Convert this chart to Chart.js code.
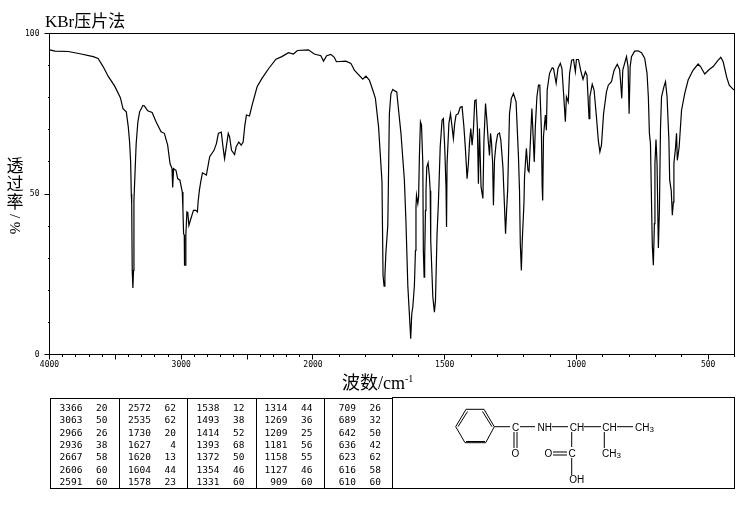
<!DOCTYPE html>
<html lang="zh">
<head>
    <meta charset="UTF-8">
    <title>KBr压片法</title>
    <script src="https://cdn.jsdelivr.net/npm/chart.js"></script>
    <style>
        body { margin: 0; background: #fff; color: #000; }
        #page { position: relative; width: 738px; height: 510px; overflow: hidden; }
        canvas { position: absolute; left: 0; top: 0; }
        .label { position: absolute; white-space: nowrap; font-family: "Liberation Serif", "Noto Sans CJK SC", serif; font-size: 17px; line-height: 1; }
        #method { left: 45px; top: 13px; }
        #xtitle { left: 342px; top: 374px; font-size: 18px; }
        #xtitle sup { font-size: 10px; line-height: 0; }
        #ytitle { left: 6px; top: 156px; font-family: "Noto Sans CJK SC", sans-serif; font-size: 17px; line-height: 18px; text-align: center; width: 18px; white-space: normal; }
        #ytitle span { display: block; }
        #ytitle .turned { transform: rotate(90deg); height: 12px; line-height: 12px; font-size: 15px; font-family: "Liberation Serif", serif; }
        #peaks { position: absolute; left: 49.5px; top: 397.5px; width: 343px; height: 91px; border: 1px solid #000; box-sizing: border-box; }
        #structure { position: absolute; left: 392px; top: 397px; }
        .cell { position: absolute; font-family: "DejaVu Sans Mono", monospace; font-size: 9.5px; line-height: 10px; text-align: right; width: 30px; }
        .divider { position: absolute; top: 0; bottom: 0; width: 1px; background: #000; }
    </style>
</head>
<body>
<div id="page">
    <canvas id="ir" width="738" height="510"></canvas>
    <div class="label" id="method">KBr压片法</div>
    <div class="label" id="xtitle">波数/cm<sup>-1</sup></div>
    <div class="label" id="ytitle"><span>透</span><span>过</span><span>率</span><span class="turned">/</span><span class="turned">%</span></div>
    <div id="peaks"></div>
    <svg id="structure" width="344" height="93" viewBox="392 397 344 93" font-family="Liberation Sans, sans-serif" font-size="10">
        <rect x="392.5" y="397.5" width="342" height="91" fill="none" stroke="#000"/>
        <g stroke="#000" fill="none">
            <path d="M455.7 426.7 L466 409.3 L484 409.3 L494.3 426.7 L485.7 442.7 L465 442.7 Z"/>
            <path d="M458 426.7 L467.5 411.5 M482.5 411.5 L492 426.7 M466 441.5 L485 441.5"/>
            <path d="M494.3 426.7 H510 M520 426.7 H535 M552 426.7 H568 M584 426.7 H601 M617 426.7 H633"/>
            <path d="M514 432 V448 M517 432 V448 M571.7 432 V447 M604.3 432 V448 M571.7 458 V475"/>
            <path d="M553 452 H567 M553 455 H567"/>
        </g>
        <g fill="#000">
            <text x="515.5" y="430.5" text-anchor="middle">C</text>
            <text x="515.5" y="457" text-anchor="middle">O</text>
            <text x="544.7" y="430.5" text-anchor="middle">NH</text>
            <text x="577" y="430.5" text-anchor="middle">CH</text>
            <text x="609.5" y="430.5" text-anchor="middle">CH</text>
            <text x="635" y="430.5">CH<tspan font-size="8" dy="1">3</tspan></text>
            <text x="548.3" y="457" text-anchor="middle">O</text>
            <text x="572" y="457" text-anchor="middle">C</text>
            <text x="602" y="457">CH<tspan font-size="8" dy="1">3</tspan></text>
            <text x="576.7" y="483" text-anchor="middle">OH</text>
        </g>
    </svg>
</div>

<script>
    // spectrum, wavenumber (cm-1) and %T
    const wavenumbers = [
        4000, 3957, 3857, 3769, 3668, 3631, 3593, 3555, 3505, 3462, 3442, 3417, 3402, 3392, 3384, 3379, 3376,
        3372, 3367, 3362, 3359, 3347, 3342, 3329, 3316, 3291, 3279, 3254, 3221, 3191, 3153, 3128, 3103, 3085,
        3070, 3065, 3058, 3040, 3027, 3010, 2992, 2987, 2982, 2977, 2975, 2967, 2965, 2957, 2950, 2942, 2927,
        2907, 2889, 2877, 2872, 2862, 2852, 2839, 2809, 2784, 2751, 2733, 2718, 2696, 2683, 2671, 2658, 2643,
        2633, 2618, 2595, 2583, 2563, 2545, 2530, 2517, 2505, 2482, 2462, 2424, 2387, 2336, 2281, 2236, 2186,
        2148, 2118, 2035, 1995, 1970, 1960, 1948, 1932, 1919, 1911, 1875, 1856, 1843, 1811, 1799, 1786,
        1773, 1763, 1751, 1738, 1734, 1730, 1727, 1723, 1716, 1714, 1710, 1704, 1697, 1691, 1682, 1675, 1666,
        1653, 1647, 1640, 1634, 1629, 1625, 1621, 1615, 1611, 1609, 1607, 1602, 1599, 1596, 1592, 1588, 1583,
        1581, 1578, 1576, 1573, 1571, 1568, 1563, 1558, 1555, 1553, 1545, 1539, 1535, 1529, 1524, 1517, 1510,
        1505, 1500, 1495, 1493, 1491, 1484, 1478, 1472, 1467, 1462, 1457, 1449, 1441, 1434, 1427, 1421, 1415,
        1410, 1406, 1401, 1396, 1391, 1386, 1381, 1376, 1372, 1368, 1362, 1355, 1351, 1345, 1340, 1335, 1330,
        1326, 1322, 1318, 1315, 1311, 1305, 1299, 1292, 1287, 1279, 1273, 1269, 1265, 1261, 1254, 1247, 1239,
        1229, 1220, 1216, 1213, 1209, 1206, 1199, 1197, 1190, 1184, 1180, 1169, 1160, 1156, 1150, 1144, 1139,
        1133, 1130, 1128, 1125, 1118, 1114, 1111, 1102, 1092, 1087, 1077, 1070, 1061, 1055, 1048, 1042, 1038,
        1031, 1026, 1018, 1011, 1004, 1000, 992, 984, 975, 966, 960, 952, 949, 940, 933, 924, 917, 911, 905,
        897, 886, 879, 867, 857, 845, 836, 832, 828, 824, 810, 804, 800, 796, 791, 779, 766, 753, 741, 732,
        727, 723, 719, 712, 708, 704, 702, 698, 694, 689, 685, 681, 677, 668, 662, 656, 649, 646, 640, 636,
        632, 630, 624, 620, 617, 610, 601, 589, 576, 557, 538, 529, 513, 496, 481, 462, 452, 443, 430, 420,
        405, 400
    ];
    const transmittance = [
        94.9, 94.5, 94.4, 93.7, 92.8, 92.2, 89.7, 86.7, 83.6, 80, 76.6, 75.6, 70.9, 66.2, 60, 50, 47,
        26.2, 20.7, 26.2, 48, 60.5, 65.7, 72.5, 75.6, 77.6, 77.4, 75.9, 75.4, 72.5, 69.4, 68.9, 65.2, 59.5,
        57.9, 52, 57.9, 57.4, 54.8, 54.3, 50.6, 44.9, 37.6, 37.2, 27.8, 27.8, 37.1, 44.4, 44.2, 40.2, 42.3,
        44.9, 44.9, 44.4, 47.5, 51.2, 53.8, 56.6, 55.9, 61.6, 63.6, 65.7, 68.9, 69.3, 64.7, 61, 64.7, 68.9,
        67.8, 63.6, 62.3, 64.7, 66.2, 65.2, 66.2, 71.4, 74.6, 74.3, 77.7, 83.4, 86, 89.1, 92, 92.8, 94,
        93.6, 94.7, 94.9, 93.6, 93.1, 91.4, 93.1, 93.5, 92.6, 91.2, 91.4, 90.7, 88.6, 85.8, 86.7, 85.5,
        82.4, 79.8, 70.9, 53.8, 24.6, 21.3, 24.6, 31.9, 40.2, 51.2, 75, 81.3, 82.6, 82.2, 81.8, 76.1, 68.9,
        54.3, 41.3, 21.5, 12.5, 4.9, 12.7, 14.8, 21.5, 32.4, 46, 49.6, 47, 49.1, 61.6, 72.5, 71.5, 59.5,
        32.4, 24.1, 29.8, 44.9, 51.2, 58.4, 59.7, 55.3, 51, 35.6, 17.9, 13.2, 16.8, 37.6, 47, 64.7, 73,
        73.5, 64.7, 52.2, 39.7, 59.5, 72, 75, 70.9, 67.3, 72, 74.6, 75, 77, 77.2, 70.9, 63.6, 54.8,
        59.5, 65.7, 70.4, 65.2, 69.9, 79, 79.3, 70.9, 53.2, 70.4, 52.2, 48.6, 66.8, 78.2, 73, 66.8, 62,
        68.9, 65.7, 59.5, 46.5, 60.5, 65.7, 68.6, 69, 66.8, 58.4, 46, 37.6, 44.9, 51.2, 75, 79.8, 81.3,
        78.7, 61.6, 51, 34.5, 26.2, 34.5, 47.5, 55.3, 64.2, 57.4, 56.9, 76.6, 60, 70.9, 80.3, 83.9, 83.9,
        69.9, 52.2, 48, 68, 74.6, 69.9, 82.4, 87.6, 89.3, 89.1, 84.5, 89.1, 90.7, 89.1, 80.3, 72.5, 80.3,
        78.7, 87.6, 91.7, 91.9, 88.1, 91.9, 91.9, 88.6, 85.7, 88.1, 87, 73.5, 80.3, 84.2, 82.4, 74, 66.8, 63.1, 65.2,
        75, 81.8, 83.9, 85, 88.6, 90.4, 88.8, 84.5, 79.8, 88.6, 92.8, 89.7, 75, 89.7, 92.8, 94.5, 94.6, 94, 92.3, 87.6,
        80.3, 68.9, 65.7, 34, 27.8, 40.8, 59.5, 67, 59.5, 33.2, 45, 70, 80.3, 83.4, 85, 80.3, 66.8, 54.3, 51, 43.4,
        47.5, 59.5, 64.2, 68.9, 60.5, 64.7, 76.1, 81.3, 85.5, 88.6, 90.5, 89.7, 87.4, 88.8, 89.7, 91.7, 92.6, 91.2, 86.5, 83.9,
        82.6, 82.4
    ];

    const xMajorTicks = [4000, 3500, 3000, 2500, 2000, 1500, 1000, 500];
    const xMinorTicks = [4000, 3900, 3800, 3700, 3600, 3500, 3400, 3300, 3200, 3100, 3000, 2900, 2800, 2700, 2600, 2500,
        2400, 2300, 2200, 2100, 2000, 1900, 1800, 1700, 1600, 1500, 1400, 1300, 1200, 1100, 1000, 900, 800, 700, 600, 500, 400];
    const xTickLabels = [4000, 3000, 2000, 1500, 1000, 500];
    const yMajorTicks = [0, 50, 100];
    const yMinorTicks = [0, 10, 20, 30, 40, 50, 60, 70, 80, 90, 100];

    // peak table, one list per column
    const peakWavenumbers = [
        [3366, 3063, 2966, 2936, 2667, 2606, 2591],
        [2572, 2535, 1730, 1627, 1620, 1604, 1578],
        [1538, 1493, 1414, 1393, 1372, 1354, 1331],
        [1314, 1269, 1209, 1181, 1158, 1127, 909],
        [709, 689, 642, 636, 623, 616, 610]
    ];
    const peakValues = [
        [20, 50, 26, 38, 58, 60, 60],
        [62, 62, 20, 4, 13, 44, 23],
        [12, 38, 52, 68, 50, 46, 60],
        [44, 36, 25, 56, 55, 46, 60],
        [26, 32, 50, 42, 62, 58, 60]
    ];

    // the axis changes scale at 2000 cm-1: 4000-2000 takes half as much room per cm-1
    function foldX(w) {
        return w >= 2000 ? (4000 - w) / 2 : 1000 + (2000 - w);
    }
    function unfoldX(v) {
        return v <= 1000 ? 4000 - v * 2 : 2000 - (v - 1000);
    }

    const points = wavenumbers.map((w, i) => ({ x: foldX(w), y: transmittance[i] }));

    const frame = {
        id: 'frame',
        afterDraw(chart) {
            const a = chart.chartArea, ctx = chart.ctx;
            ctx.save();
            ctx.strokeStyle = '#000';
            ctx.lineWidth = 1;
            ctx.strokeRect(a.left, a.top, a.right - a.left, a.bottom - a.top);
            ctx.restore();
        }
    };

    const tickFont = { family: '"DejaVu Sans Mono", monospace', size: 8 };

    new Chart(document.getElementById('ir'), {
        type: 'line',
        data: {
            datasets: [{
                data: points,
                borderColor: '#000',
                borderWidth: 1.2,
                pointRadius: 0,
                tension: 0,
                parsing: false
            }]
        },
        plugins: [frame],
        options: {
            responsive: false,
            animation: false,
            devicePixelRatio: 1,
            layout: { padding: { left: 0, top: 33.5, right: 3.5, bottom: 0 } },
            plugins: { legend: { display: false }, tooltip: { enabled: false } },
            scales: {
                x: {
                    type: 'linear',
                    min: 0,
                    max: 2600,
                    afterBuildTicks(scale) { scale.ticks = xMajorTicks.map(w => ({ value: foldX(w) })); },
                    afterFit(scale) { scale.height = 155.5; scale.paddingLeft = 0; scale.paddingRight = 0; },
                    grid: { drawOnChartArea: false, tickLength: 5, tickColor: '#000' },
                    border: { display: false },
                    ticks: {
                        autoSkip: false,
                        maxRotation: 0,
                        padding: 1,
                        color: '#000',
                        font: tickFont,
                        callback(v) {
                            const w = Math.round(unfoldX(v));
                            return xTickLabels.includes(w) ? String(w) : '';
                        }
                    }
                },
                xMinor: {
                    type: 'linear',
                    axis: 'x',
                    position: { y: 0 },
                    min: 0,
                    max: 2600,
                    afterBuildTicks(scale) { scale.ticks = xMinorTicks.map(w => ({ value: foldX(w) })); },
                    grid: { drawOnChartArea: false, tickLength: 2, tickColor: '#000' },
                    border: { display: false },
                    ticks: { display: false, autoSkip: false }
                },
                y: {
                    min: 0,
                    max: 100,
                    afterBuildTicks(scale) { scale.ticks = yMajorTicks.map(v => ({ value: v })); },
                    afterFit(scale) { scale.width = 49.5; scale.paddingTop = 0; scale.paddingBottom = 0; },
                    grid: { drawOnChartArea: false, tickLength: 5, tickColor: '#000' },
                    border: { display: false },
                    ticks: { padding: 5, color: '#000', font: tickFont }
                },
                yMinor: {
                    axis: 'y',
                    position: { x: 0 },
                    min: 0,
                    max: 100,
                    afterBuildTicks(scale) { scale.ticks = yMinorTicks.map(v => ({ value: v })); },
                    grid: { drawOnChartArea: false, tickLength: 2, tickColor: '#000' },
                    border: { display: false },
                    ticks: { display: false }
                }
            }
        }
    });

    // peak table
    const peaks = document.getElementById('peaks');
    const columnRight = [32, 100.5, 169, 237, 305.5];
    const rowTops = [4, 16, 29, 41, 53, 66, 78];
    const dividers = [68, 136.5, 205, 273];
    dividers.forEach(x => {
        const d = document.createElement('div');
        d.className = 'divider';
        d.style.left = x + 'px';
        peaks.appendChild(d);
    });
    function addCell(text, right, top) {
        const c = document.createElement('div');
        c.className = 'cell';
        c.textContent = text;
        c.style.left = (right - 30) + 'px';
        c.style.top = top + 'px';
        peaks.appendChild(c);
    }
    peakWavenumbers.forEach((col, i) => {
        col.forEach((w, r) => {
            addCell(w, columnRight[i], rowTops[r]);
            addCell(peakValues[i][r], columnRight[i] + 25, rowTops[r]);
        });
    });
</script>
</body>
</html>
